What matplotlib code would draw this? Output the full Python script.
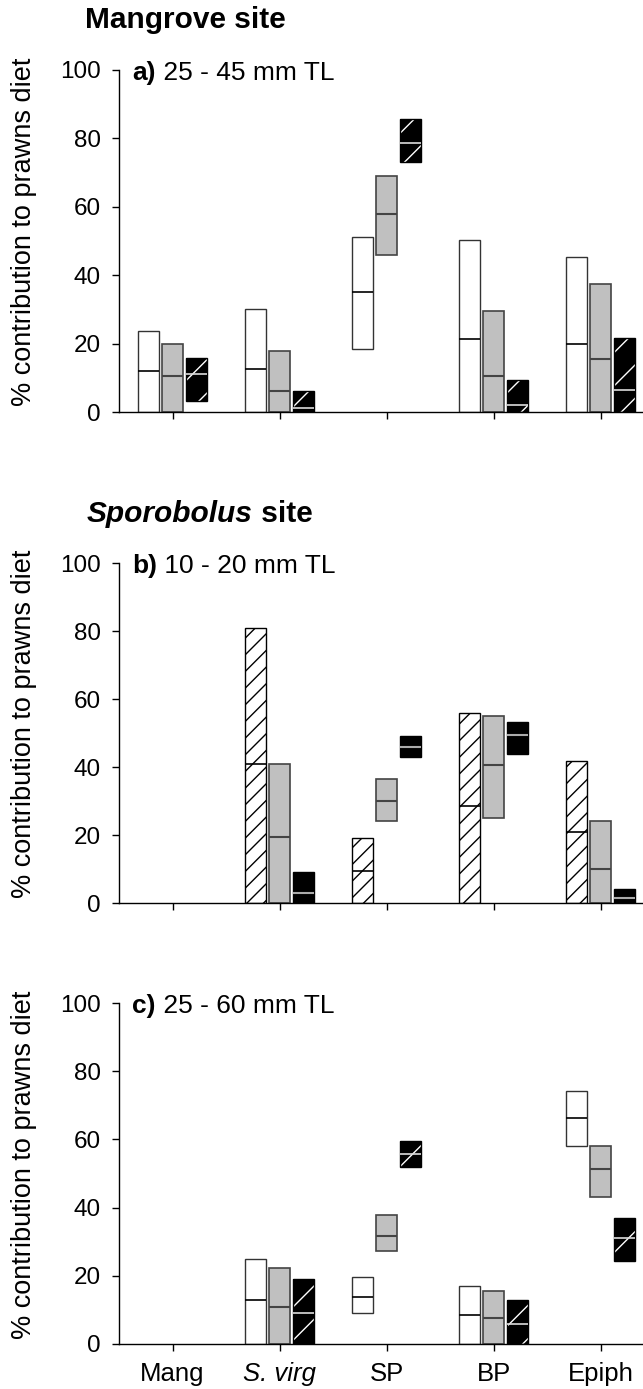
import numpy as np
import matplotlib
matplotlib.use('Agg')
import matplotlib.pyplot as plt

plt.rcParams['font.family'] = ['Liberation Sans', 'DejaVu Sans']
plt.rcParams['hatch.linewidth'] = 1.0

cats = ['Mang', 'S. virg', 'SP', 'BP', 'Epiph']
nan = np.nan

# panel a) mangrove site, 25 - 45 mm TL   (low, median, high)
a_white_lo = [0, 0, 18.5, 0, 0]
a_white_md = [12.0, 12.6, 35.1, 21.2, 19.8]
a_white_hi = [23.7, 30.0, 51.2, 50.3, 45.3]
a_grey_lo = [0, 0, 45.9, 0, 0]
a_grey_md = [10.6, 6.2, 57.9, 10.6, 15.4]
a_grey_hi = [20.0, 17.8, 69.0, 29.6, 37.4]
a_black_lo = [3.3, 0, 73.1, 0, 0]
a_black_md = [11.1, 1.3, 78.6, 2.0, 6.5]
a_black_hi = [15.9, 6.2, 85.7, 9.4, 21.5]

# panel b) sporobolus site, 10 - 20 mm TL
b_white_lo = [nan, 0, 0, 0, 0]
b_white_md = [nan, 40.9, 9.5, 28.5, 21.0]
b_white_hi = [nan, 81.0, 19.0, 55.8, 41.8]
b_grey_lo = [nan, 0, 24.0, 25.0, 0]
b_grey_md = [nan, 19.5, 30.0, 40.6, 10.0]
b_grey_hi = [nan, 41.0, 36.5, 55.0, 24.0]
b_black_lo = [nan, 0, 42.8, 43.9, 0]
b_black_md = [nan, 3.0, 45.9, 49.4, 1.5]
b_black_hi = [nan, 9.0, 49.1, 53.2, 4.0]

# panel c) sporobolus site, 25 - 60 mm TL
c_white_lo = [nan, 0, 9.0, 0, 58.0]
c_white_md = [nan, 12.9, 13.8, 8.5, 66.3]
c_white_hi = [nan, 24.9, 19.7, 17.0, 74.1]
c_grey_lo = [nan, 0, 27.3, 0, 43.1]
c_grey_md = [nan, 10.9, 31.7, 7.5, 51.2]
c_grey_hi = [nan, 22.4, 37.8, 15.5, 58.2]
c_black_lo = [nan, 0, 51.8, 0, 24.4]
c_black_md = [nan, 9.0, 55.6, 6.0, 31.2]
c_black_hi = [nan, 19.0, 59.4, 12.9, 36.9]

W, H = 643, 1389
fig = plt.figure(figsize=(W / 100, H / 100), dpi=100)

x = np.arange(len(cats))
w = 0.19
off = 0.225


def box(ax, pos, lo, md, hi, kind):
    lo = np.array(lo, float)
    md = np.array(md, float)
    hi = np.array(hi, float)
    ok = ~np.isnan(lo)
    p, lo, md, hi = pos[ok], lo[ok], md[ok], hi[ok]
    if kind == 'white':
        ax.bar(p, hi - lo, w, bottom=lo, color='white', edgecolor='#333333', lw=1)
        ax.hlines(md, p - w / 2, p + w / 2, color='black', lw=1.2)
    elif kind == 'hatch':
        ax.bar(p, hi - lo, w, bottom=lo, color='white', edgecolor='black', lw=1, hatch='//')
        ax.hlines(md, p - w / 2, p + w / 2, color='black', lw=1.2)
    elif kind == 'grey':
        ax.bar(p, hi - lo, w, bottom=lo, color='#c0c0c0', edgecolor='#444444', lw=1.2)
        ax.hlines(md, p - w / 2, p + w / 2, color='#444444', lw=1.5)
    elif kind == 'blackhatch':
        ax.bar(p, hi - lo, w, bottom=lo, color='black', edgecolor='white', lw=0, hatch='/')
        ax.bar(p, hi - lo, w, bottom=lo, fill=False, edgecolor='black', lw=1)
        ax.hlines(md, p - w / 2, p + w / 2, color='#dddddd', lw=1.2)
    else:
        ax.bar(p, hi - lo, w, bottom=lo, color='black', edgecolor='black', lw=1)
        ax.hlines(md, p - w / 2, p + w / 2, color='#aaaaaa', lw=1.5)


def panel(top, bottom, series, bold, rest, labels):
    ax = fig.add_axes([119 / W, (H - bottom) / H, 535 / W, (bottom - top) / H])
    for data, dx, kind in series:
        box(ax, x + dx, *data, kind)
    ax.set_xlim(-0.5, 4.5)
    ax.set_ylim(0, 100)
    ax.set_yticks([0, 20, 40, 60, 80, 100])
    ax.set_xticks(x)
    ax.spines['top'].set_visible(False)
    ax.spines['right'].set_visible(False)
    ax.spines['left'].set_linewidth(1)
    ax.spines['bottom'].set_linewidth(1)
    ax.tick_params(axis='both', length=5, width=1, direction='out')
    ax.tick_params(axis='y', labelsize=17.5, pad=8)
    if labels:
        ax.set_xticklabels(cats, fontsize=18.5)
        ax.get_xticklabels()[1].set_style('italic')
        ax.tick_params(axis='x', pad=8)
    else:
        ax.set_xticklabels([])
    mid = (top + bottom) / 2 - 9
    fig.text(24 / W, 1 - mid / H, '% contribution to prawns diet', rotation=90,
             ha='center', va='center', fontsize=19.5)
    t = ax.text(0.025, 0.99, bold, transform=ax.transAxes, fontsize=19,
                fontweight='bold', ha='left', va='center')
    fig.canvas.draw()
    bb = t.get_window_extent()
    inv = ax.transAxes.inverted()
    x1 = inv.transform((bb.x1, bb.y0))[0]
    ax.text(x1, 0.99, ' ' + rest, transform=ax.transAxes, fontsize=19,
            ha='left', va='center')
    return ax


panel(70, 412, [((a_white_lo, a_white_md, a_white_hi), -off, 'white'),
                ((a_grey_lo, a_grey_md, a_grey_hi), 0, 'grey'),
                ((a_black_lo, a_black_md, a_black_hi), off, 'blackhatch')],
      'a)', '25 - 45 mm TL', False)
panel(563, 903, [((b_white_lo, b_white_md, b_white_hi), -off, 'hatch'),
                 ((b_grey_lo, b_grey_md, b_grey_hi), 0, 'grey'),
                 ((b_black_lo, b_black_md, b_black_hi), off, 'black')],
      'b)', '10 - 20 mm TL', False)
panel(1003, 1344, [((c_white_lo, c_white_md, c_white_hi), -off, 'white'),
                   ((c_grey_lo, c_grey_md, c_grey_hi), 0, 'grey'),
                   ((c_black_lo, c_black_md, c_black_hi), off, 'blackhatch')],
      'c)', '25 - 60 mm TL', True)

fig.text(85 / W, 1 - 20 / H, 'Mangrove site', fontsize=21.5, fontweight='bold',
         ha='left', va='center')
t = fig.text(87 / W, 1 - 514 / H, 'Sporobolus', fontsize=21.5, fontweight='bold',
             style='italic', ha='left', va='center')
fig.canvas.draw()
bb = t.get_window_extent()
fig.text(bb.x1 / W, 1 - 514 / H, ' site', fontsize=21.5, fontweight='bold',
         ha='left', va='center')

fig.savefig('out.png', dpi=100)
